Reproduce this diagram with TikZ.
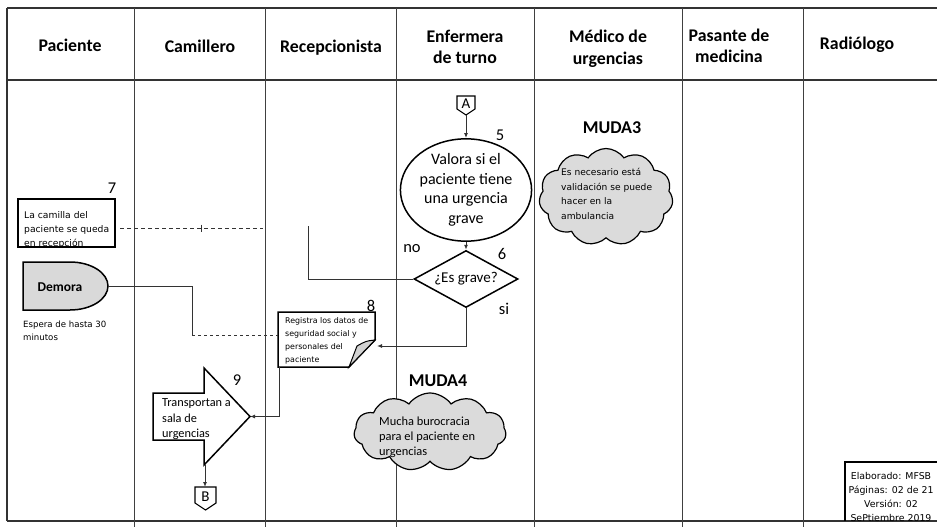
\documentclass[tikz,border=0pt]{standalone}
\usepackage{fontspec}
\setmainfont{Carlito}
\newfontfamily\vfont{DejaVu Sans}
\usetikzlibrary{shapes.geometric,shapes.symbols,arrows.meta}
\begin{document}
\begin{tikzpicture}[x=1pt,y=-1pt,
  frame/.style={line width=1.8pt, draw=black!80},
  lane/.style={line width=0.9pt, draw=black!75},
  hdr/.style={font=\fontsize{17.8}{21.5}\selectfont\bfseries, align=center, inner sep=0},
  shp/.style={draw=black, line width=1.5pt},
  conn/.style={draw=black!80, line width=1pt},
  arr/.style={conn, -{Latex[length=5pt,width=4pt]}},
  num/.style={font=\fontsize{16.5}{18}\selectfont, inner sep=0},
  muda/.style={font=\fontsize{18}{20}\selectfont\bfseries, inner sep=0},
  small/.style={align=left, inner sep=0, anchor=north west},
  nube/.style={cloud, cloud puffs=11, cloud puff arc=110, draw=black, line width=1.2pt, fill=gray!28, inner sep=0}
]
\useasboundingbox (0,0) rectangle (937,532);

% table frame
\draw[frame] (7,8) -- (937,8);
\draw[frame] (7,80) -- (937,80);
\draw[frame] (7,521) -- (937,521);
\draw[frame] (7,8) -- (7,521);
\foreach \xx in {134,265,396,534,682,803}{\draw[lane] (\xx,8) -- (\xx,527);}

% headers
\node[hdr] (hPac) at (70,45) {Paciente};
\node[hdr] (hCam) at (200,46) {Camillero};
\node[hdr] (hRec) at (331,48) {Recepcionista};
\node[hdr] (hEnf) at (465,47) {Enfermera\\de turno};
\node[hdr] (hMed) at (608,49) {Médico de\\urgencias};
\node[hdr] (hPas) at (729,46) {Pasante de\\medicina};
\node[hdr] (hRad) at (857,45) {Radiólogo};

% connector A
\draw[shp, line width=1.1pt] (457,96) -- (475,96) -- (475,109) -- (466,115) -- (457,109) -- cycle;
\node[font=\fontsize{15}{17}\selectfont, inner sep=0] (A) at (466,104) {A};
\coordinate (Abot) at (466,115);

% step 5
\node[ellipse, shp, minimum width=108, minimum height=98, align=center, inner sep=0,
      font=\fontsize{16}{19.5}\selectfont] (n5) at (466,190) {Valora si el\\paciente tiene\\una urgencia\\grave};
\node[num] (l5) at (500,135) {5};

% step 6
\node[diamond, shp, shape aspect=1.8, minimum width=104, minimum height=57, inner sep=0,
      font=\fontsize{15}{17}\selectfont] (n6) at (466,279) {¿Es grave?};
\node[num] (l6) at (502,254) {6};
\node[num] (lno) at (412,249) {no};
\node[num] (lsi) at (504,309) {si};

\draw[arr] (Abot) -- (n5.north);
\draw[arr] (n5.south) -- (n6.north);
\coordinate (noEnd) at (308,226);
\draw[conn] (n6.west) -| (noEnd);

% step 7
\node[rectangle, shp, minimum width=97, minimum height=48, inner sep=0] (n7) at (66.5,223) {};
\node[small, font=\vfont\fontsize{9.2}{14}\selectfont] (t7) at (24,211.5) {La camilla del\\paciente se queda\\en recepción};
\node[num] (l7) at (112,188) {7};
\coordinate (d7a) at (120,228);
\coordinate (d7b) at (263,228);
\draw[conn, dashed, dash pattern=on 4pt off 3pt] (d7a) -- (d7b);
\draw[conn] (201,224.5) -- (201,231.5);
\node[inner sep=0, minimum size=7pt] (plus) at (201,228) {};

% Demora
\draw[shp, fill=gray!30] (23,262) -- (70,262) arc[start angle=-90, end angle=90, x radius=38, y radius=24] -- (23,310) -- cycle;
\node[font=\fontsize{13.5}{16}\selectfont\bfseries, inner sep=0] (n10) at (60,287) {Demora};
\coordinate (demR) at (108,286);
\node[small, font=\vfont\fontsize{8.6}{13}\selectfont] (tEsp) at (23,320.5) {Espera de hasta 30\\minutos};

% step 8 (document)
\node[rectangle, minimum width=97, minimum height=55, inner sep=0] (n8) at (326.5,339.5) {};
\draw[shp] (278,312) -- (375,312) -- (375,340) -- (349,367) -- (278,367) -- cycle;
\filldraw[fill=gray!35, draw=black, line width=1pt] (375,340) .. controls (366,341) .. (357,346) -- (349,367) -- cycle;
\node[small, font=\vfont\fontsize{7.9}{13}\selectfont] (t8) at (285,317) {Registra los datos de\\seguridad social y\\personales del\\paciente};
\node[num] (l8) at (371,306) {8};
\coordinate (n8in) at (377,346);
\draw[arr] (n6.south) |- (n8in);
\coordinate (demB) at (192,335);
\draw[conn] (demR) -| (demB);
\draw[conn, dashed, dash pattern=on 3pt off 3pt] (demB) -- (n8.west |- demB);

% step 9 (block arrow)
\draw[shp] (153,393) -- (204,393) -- (204,368) -- (250,416.5) -- (204,465) -- (204,440) -- (153,440) -- cycle;
\coordinate (n9tip) at (250,416.5);
\coordinate (n9bot) at (205,465);
\node[small, font=\fontsize{12.3}{15.5}\selectfont] (t9) at (162,398.5) {Transportan a\\sala de\\urgencias};
\node[num] (l9) at (237,380) {9};
\coordinate (n8bl) at (279,367);
\draw[arr] (n8bl) |- (n9tip);

% connector B
\draw[shp, line width=1.1pt] (195,487) -- (216,487) -- (216,503) -- (205.5,510) -- (195,503) -- cycle;
\node[font=\fontsize{15}{17}\selectfont, inner sep=0] (B) at (205.5,497) {B};
\draw[arr] (n9bot) -- (205,487);

% MUDA3
\node[muda] (m3) at (612,128) {MUDA3};
\node[nube, minimum width=134, minimum height=97] (c3) at (606,197) {};
\node[small, font=\vfont\fontsize{9.1}{14.5}\selectfont] (t3) at (561,168.5) {Es necesario está\\validación se puede\\hacer en la\\ambulancia};

% MUDA4
\node[muda] (m4) at (438,381) {MUDA4};
\node[nube, minimum width=152, minimum height=78] (c4) at (430,432) {};
\node[small, font=\fontsize{12.4}{15}\selectfont] (t4) at (379,416.5) {Mucha burocracia\\para el paciente en\\urgencias};

% footer box
\draw[frame, line width=1.8pt, draw=black] (845,521) -- (845,462) -- (937,462);
\node[inner sep=0, align=center, anchor=north, font=\vfont\fontsize{9.4}{14}\selectfont] (ft) at (891,472) {Elaborado: MFSB\\Páginas: 02 de 21\\Versión: 02\\SePtiembre 2019};
\end{tikzpicture}
\end{document}
